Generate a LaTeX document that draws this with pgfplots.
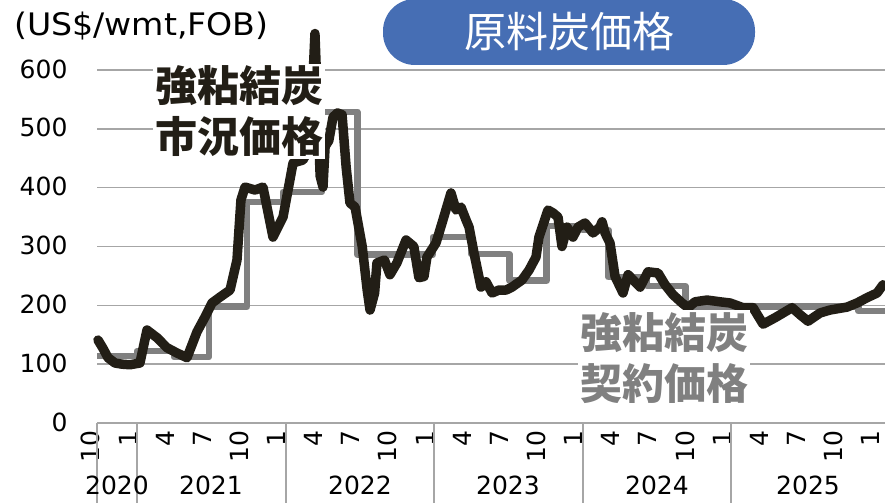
\documentclass[border=0pt]{standalone}
\usepackage{pgfplots}
\pgfplotsset{compat=1.18}
\usepackage{fontspec}
\setmainfont{DejaVu Sans}
\newfontfamily\cjk{Noto Sans CJK JP}
\newfontfamily\widesans[FakeStretch=1.07]{DejaVu Sans}
\definecolor{spot}{HTML}{221E16}
\definecolor{contract}{HTML}{808080}
\definecolor{gridc}{HTML}{A6A6A6}
\definecolor{titleblue}{HTML}{466EB4}
\begin{document}
\begin{tikzpicture}[x=1pt,y=1pt]
\path[use as bounding box] (0,0) rectangle (885,503);
\begin{axis}[
  at={(97pt,80pt)}, anchor=south west,
  scale only axis, width=788pt, height=411.83pt,
  xmin=8.77, xmax=72.44, ymin=0, ymax=700,
  ytick={0,100,...,600},
  xtick={9,12,...,72},
  xticklabels={10,1,4,7,10,1,4,7,10,1,4,7,10,1,4,7,10,1,4,7,10,1},
  axis x line*=bottom, axis y line*=left,
  x axis line style={draw=gridc, line width=1.5pt},
  y axis line style={draw=none},
  major tick length=0,
  ymajorgrids, grid style={draw=gridc, line width=1.5pt},
  tick label style={font=\fontsize{25}{30}\selectfont},
  /pgf/number format/assume math mode=true,
  yticklabel style={xshift=-26pt, yshift=1pt},
  xticklabel style={xshift=-9pt, yshift=-4pt, rotate=90, anchor=east},
  clip=false,
]
\addplot[contract, line width=6.5pt, line join=round] coordinates {
(8.77,114) (12,114) (12,122) (15,122) (15,112) (17.8,112) (17.8,198) (20.9,198)
(20.9,376) (23.8,376) (23.8,393) (26.95,393) (26.95,529) (29.8,529) (29.8,286)
(35.9,286) (35.9,316) (39,316) (39,287) (42.1,287) (42.1,242) (45.1,242)
(45.1,335) (48,335) (48,328) (50.1,328) (50.1,248) (53.2,248) (53.2,233) (56.3,233)
(56.3,198) (70.3,198) (70.3,190) (72.44,190)
};
\addplot[spot, line width=9.5pt, line join=round, line cap=round] coordinates {
(8.85,141) (9.25,127) (9.66,111) (10.22,102) (10.79,100) (11.43,99) (12.24,102)
(12.81,158) (13.62,145) (14.42,128) (15.23,119) (16.04,111) (16.28,124) (16.85,155)
(17.49,180) (18.06,204) (18.71,214) (19.52,226) (20.08,277) (20.40,379) (20.73,401)
(21.54,396) (22.18,401) (22.99,316) (23.80,350) (24.61,442) (25.41,447) (25.98,469)
(26.38,662) (26.8,420) (27.03,401) (27.2,470) (27.5,480) (27.84,520) (28.2,527)
(28.57,524) (28.9,435) (29.21,374) (29.62,367) (30.2,300) (30.6,226) (30.83,192)
(31.2,221) (31.39,272) (32.0,277) (32.44,252) (33.0,272) (33.74,311) (34.37,300)
(34.78,247) (35.19,249) (35.43,282) (36.16,306) (36.65,340) (37.37,391) (37.78,362)
(38.18,367) (38.59,345) (38.83,333) (39.23,289) (39.80,231) (40.20,240) (40.69,221)
(41.25,226) (41.82,226) (42.30,231) (43.11,243) (43.68,260) (44.24,282) (44.48,316)
(45.21,362) (45.62,357) (46.02,350) (46.34,300) (46.75,333) (47.23,316) (47.64,333)
(48.20,340) (48.85,323) (49.41,333) (49.58,342) (49.82,323) (50.22,306) (50.63,249)
(51.27,221) (51.68,252) (52.24,240) (52.65,231) (53.29,257) (54.10,255) (54.67,235)
(55.31,218) (56.04,204) (56.53,196) (57.09,206) (58.06,209) (59.11,206) (59.92,204)
(60.97,196) (61.78,196) (62.59,168) (63.56,179) (64.93,196) (65.58,184) (66.22,173)
(67.19,187) (67.99,192) (69.37,197) (70.18,204) (70.99,213) (71.80,221) (72.28,235)
};
\end{axis}
\foreach \x in {97,137,286,434,583,731} \draw[gridc, line width=1.5pt] (\x,80) -- (\x,0);
\foreach \x/\y in {117/2020,211/2021,360/2022,508/2023,657/2024,808/2025}
  \node[anchor=base, inner sep=0, font=\fontsize{25}{30}\selectfont] at (\x,9) {\y};
\node[anchor=base west, inner sep=0, font=\widesans\fontsize{31}{33}\selectfont] at (14,467) {(US\$/wmt,FOB)};
\node[fill=titleblue, rounded corners=32pt, minimum width=372pt, minimum height=66pt,
  text=white, font=\cjk\fontsize{42}{42}\selectfont] at (569,471) {原料炭価格};
\node[fill=white, inner sep=2pt, align=center, text=spot,
  font=\cjk\bfseries\fontsize{42}{51}\selectfont] at (239,391.5) {強粘結炭\\市況価格};
\node[fill=white, inner sep=2pt, align=center, text=contract,
  font=\cjk\bfseries\fontsize{42}{51}\selectfont] at (664,145) {強粘結炭\\契約価格};
\end{tikzpicture}
\end{document}
